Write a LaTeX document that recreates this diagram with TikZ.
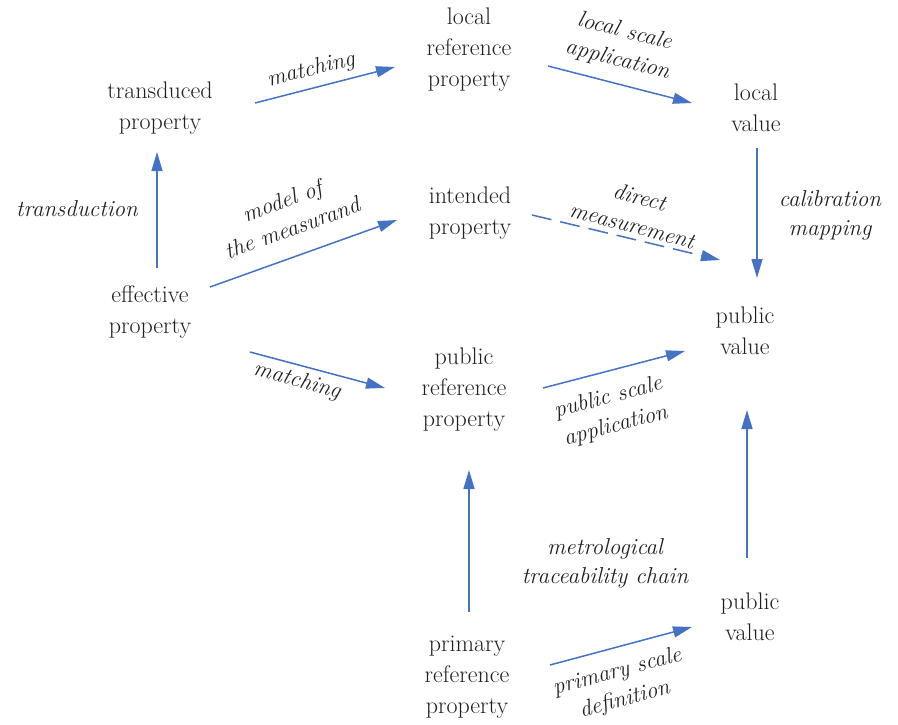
\documentclass[tikz,border=0pt]{standalone}
\usetikzlibrary{arrows.meta}
\definecolor{arrowblue}{HTML}{4472C4}
\definecolor{inkdark}{HTML}{231F20}
\begin{document}
\begin{tikzpicture}[x=1pt,y=-1pt,
  prop/.style={align=center,font=\fontsize{24}{31}\selectfont,text=inkdark,inner sep=0pt},
  lbl/.style={align=center,font=\fontsize{23}{29}\selectfont\itshape,text=inkdark,inner sep=0pt},
  arr/.style={draw=arrowblue,line width=1.5pt,-{Triangle[length=19pt,width=11pt]}}]
\useasboundingbox (0,0) rectangle (898,724);
% nodes
\node[prop] (tp)  at (160,108) {transduced\\property};
\node[prop] (lrp) at (469,50)  {local\\reference\\property};
\node[prop] (lv)  at (756,108) {local\\value};
\node[prop] (ip)  at (470,213) {intended\\property};
\node[prop] (ep)  at (150,312) {effective\\property};
\node[prop] (pv)  at (745,331) {public\\value};
\node[prop] (prp) at (464,390) {public\\reference\\property};
\node[prop] (pv2) at (750,617) {public\\value};
\node[prop] (pri) at (467,677) {primary\\reference\\property};
% connectors
\draw[arr] ([shift={(95,-5)}]tp.center) -- ([shift={(-74,17)}]lrp.center);
\draw[arr] ([shift={(79,16)}]lrp.center) -- ([shift={(-64,-5)}]lv.center);
\draw[arr] ([shift={(7,-44)}]ep.center) -- ([shift={(-3,44)}]tp.center);
\draw[arr] ([shift={(60,-25)}]ep.center) -- ([shift={(-73,7)}]ip.center);
\draw[arr,dash pattern=on 20pt off 9pt] ([shift={(62,2)}]ip.center) -- ([shift={(-25,-71)}]pv.center);
\draw[arr] ([shift={(1,40)}]lv.center) -- ([shift={(12,-53)}]pv.center);
\draw[arr] ([shift={(100,40)}]ep.center) -- ([shift={(-79,-2)}]prp.center);
\draw[arr] ([shift={(79,-2)}]prp.center) -- ([shift={(-60,20)}]pv.center);
\draw[arr] ([shift={(2,-65)}]pri.center) -- ([shift={(5,80)}]prp.center);
\draw[arr] ([shift={(-3,-59)}]pv2.center) -- ([shift={(2,79)}]pv.center);
\draw[arr] ([shift={(83,-12)}]pri.center) -- ([shift={(-58,10)}]pv2.center);
% labels
\node[lbl,rotate=14] (l1) at (311,70) {matching};
\node[lbl,rotate=-14] (l2) at (621,46) {local scale\\application};
\node[lbl] (l3) at (77,209) {transduction};
\node[lbl,rotate=20] (l4) at (287,214) {model of\\the measurand};
\node[lbl,rotate=-15] (l5) at (636,211) {direct\\measurement};
\node[lbl] (l6) at (830,215) {calibration\\mapping};
\node[lbl,rotate=-15] (l7) at (297,381) {matching};
\node[lbl,rotate=15] (l8) at (612,412) {public scale\\application};
\node[lbl] (l9) at (605,563) {metrological\\traceability chain};
\node[lbl,rotate=15] (l10) at (621,686) {primary scale\\definition};
\end{tikzpicture}
\end{document}
